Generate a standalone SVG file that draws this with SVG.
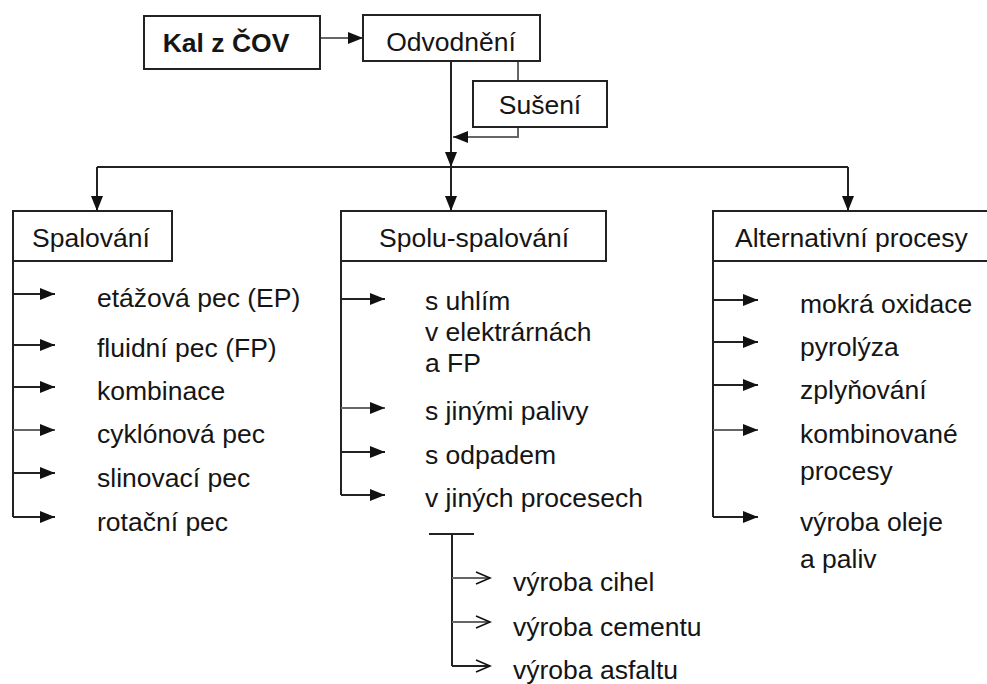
<svg xmlns="http://www.w3.org/2000/svg" width="987" height="684" viewBox="0 0 987 684">
<defs>
<marker id="ah" markerUnits="userSpaceOnUse" markerWidth="17" markerHeight="14" refX="15" refY="6" orient="auto"><path d="M0,0 L15,6 L0,12 z" fill="#111"/></marker>
<marker id="oh" markerUnits="userSpaceOnUse" markerWidth="18" markerHeight="16" refX="15" refY="7" orient="auto"><path d="M1,1 L15,7 L1,13" fill="none" stroke="#111" stroke-width="1.6"/></marker>
<style>
.box{fill:#fff;stroke:#222;stroke-width:2}
.t{font-family:"Liberation Sans",Arial,sans-serif;font-size:26.5px;fill:#151515}
.b{font-weight:bold}
.ln{fill:none;stroke:#222;stroke-width:2}
.gl{fill:none;stroke:#666;stroke-width:2}
.ar{marker-end:url(#ah)}
.or{marker-end:url(#oh)}
</style>
</defs>
<rect width="987" height="684" fill="#fff"/>
<g id="connectors">
<path class="gl ar" d="M320,38 H363"/>
<path class="ln ar" d="M451,61 V167"/>
<path class="gl" d="M518,61 V81"/>
<path class="gl ar" d="M518,127 V137 H453"/>
<path class="ln" d="M97,167 H848"/>
<path class="ln ar" d="M97,167 V211"/>
<path class="ln ar" d="M451,167 V211"/>
<path class="ln ar" d="M848,167 V211"/>
<path class="ln" d="M13,261 V517"/>
<path class="ln ar" d="M13,294 H55"/>
<path class="ln ar" d="M13,345 H55"/>
<path class="ln ar" d="M13,387 H55"/>
<path class="gl ar" d="M13,430 H55"/>
<path class="ln ar" d="M13,473 H55"/>
<path class="ln ar" d="M13,517 H55"/>
<path class="ln" d="M341,261 V495"/>
<path class="ln ar" d="M341,299 H385"/>
<path class="gl ar" d="M341,408 H385"/>
<path class="ln ar" d="M341,452 H385"/>
<path class="ln ar" d="M341,495 H385"/>
<path class="ln" d="M713,261 V517"/>
<path class="ln ar" d="M713,300 H758"/>
<path class="ln ar" d="M713,342 H758"/>
<path class="ln ar" d="M713,385 H758"/>
<path class="gl ar" d="M713,430 H758"/>
<path class="ln ar" d="M713,517 H758"/>
<path class="ln" d="M429,534 H474"/>
<path class="ln" d="M452,534 V666"/>
<path class="gl or" d="M452,578 H490"/>
<path class="gl or" d="M452,622 H490"/>
<path class="ln or" d="M452,666 H490"/>
</g>
<g id="kal"><rect class="box" x="144" y="16" width="176" height="53"/><text class="t b" x="226" y="52" text-anchor="middle">Kal z ČOV</text></g>
<g id="odvodneni"><rect class="box" x="363" y="15" width="177" height="46"/><text class="t" x="451" y="51" text-anchor="middle">Odvodnění</text></g>
<g id="suseni"><rect class="box" x="473" y="81" width="134" height="46"/><text class="t" x="540" y="114" text-anchor="middle">Sušení</text></g>
<g id="spalovani"><rect class="box" x="13" y="211" width="159" height="50"/><text class="t" x="32" y="247">Spalování</text></g>
<g id="spolu"><rect class="box" x="341" y="211" width="265" height="50"/><text class="t" x="379" y="247">Spolu-spalování</text></g>
<g id="alternativni"><rect class="box" x="713" y="211" width="290" height="50"/><text class="t" x="735" y="247">Alternativní procesy</text></g>
<g id="spal-items" class="t">
<text x="97" y="307">etážová pec (EP)</text>
<text x="97" y="357">fluidní pec (FP)</text>
<text x="97" y="400">kombinace</text>
<text x="97" y="443">cyklónová pec</text>
<text x="97" y="487">slinovací pec</text>
<text x="97" y="531">rotační pec</text>
</g>
<g id="spolu-items" class="t">
<text x="425" y="310">s uhlím</text>
<text x="425" y="341">v elektrárnách</text>
<text x="425" y="372">a FP</text>
<text x="425" y="420">s jinými palivy</text>
<text x="425" y="464">s odpadem</text>
<text x="425" y="507">v jiných procesech</text>
</g>
<g id="alt-items" class="t">
<text x="800" y="313">mokrá oxidace</text>
<text x="800" y="356">pyrolýza</text>
<text x="800" y="399">zplyňování</text>
<text x="800" y="443">kombinované</text>
<text x="800" y="480">procesy</text>
<text x="800" y="531">výroba oleje</text>
<text x="800" y="568">a paliv</text>
</g>
<g id="jine-items" class="t">
<text x="513" y="591">výroba cihel</text>
<text x="513" y="636">výroba cementu</text>
<text x="513" y="679">výroba asfaltu</text>
</g>
</svg>
